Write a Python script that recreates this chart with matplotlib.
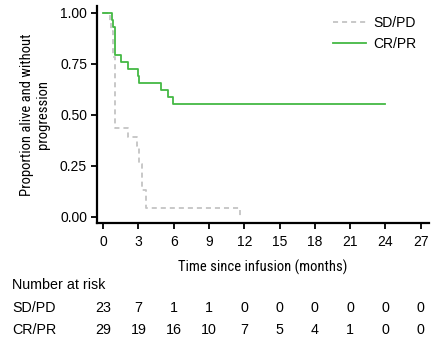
import matplotlib
matplotlib.use("Agg")
import matplotlib.pyplot as plt
from matplotlib.transforms import blended_transform_factory

# Kaplan-Meier step data (time in months, survival proportion)
sdpd_times = [0, 0.57, 0.70, 0.85, 0.98, 2.15, 2.86, 3.09, 3.28, 3.62, 11.6]
sdpd_surv = [1.0, 0.957, 0.913, 0.783, 0.435, 0.391, 0.348, 0.261, 0.130, 0.043, 0.0]

crpr_times = [0, 0.74, 0.88, 0.99, 1.05, 1.50, 2.15, 3.00, 3.06, 4.92, 5.49, 5.97, 24.0]
crpr_surv = [1.0, 0.966, 0.931, 0.862, 0.793, 0.759, 0.724, 0.690, 0.655, 0.620, 0.586, 0.552, 0.552]

x_ticks = [0, 3, 6, 9, 12, 15, 18, 21, 24, 27]
y_ticks = [0.0, 0.25, 0.50, 0.75, 1.00]
y_tick_labels = ["0.00", "0.25", "0.50", "0.75", "1.00"]

risk_groups = ["SD/PD", "CR/PR"]
risk_sdpd = [23, 7, 1, 1, 0, 0, 0, 0, 0, 0]
risk_crpr = [29, 19, 16, 10, 7, 5, 4, 1, 0, 0]

plt.rcParams["font.family"] = ["Liberation Sans", "DejaVu Sans"]
narrow = ["Roboto Condensed", "Archivo Narrow", "PT Sans Narrow",
          "Liberation Sans Narrow", "Liberation Sans"]

fig = plt.figure(figsize=(4.36, 3.42), dpi=100)
ax = fig.add_axes([0.222, 0.348, 0.762, 0.6345])

green = "#44b944"
gray = "#c4c4c4"

ax.step(sdpd_times, sdpd_surv, where="post", color=gray, lw=1.3,
        dashes=(2.8, 2.2), label="SD/PD")
ax.step(crpr_times, crpr_surv, where="post", color=green, lw=1.3,
        label="CR/PR")

ax.set_xlim(-0.53, 27.7)
ax.set_ylim(-0.03, 1.034)
ax.set_xticks(x_ticks)
ax.set_xticklabels([str(t) for t in x_ticks], fontsize=10)
ax.set_yticks(y_ticks)
ax.set_yticklabels(y_tick_labels, fontsize=10)

for side in ("top", "right"):
    ax.spines[side].set_visible(False)
for side in ("left", "bottom"):
    ax.spines[side].set_linewidth(1.6)
ax.tick_params(axis="both", width=1.3, length=4, color="black")
ax.tick_params(axis="x", pad=5)
ax.tick_params(axis="y", pad=3)

ax.set_xlabel("Time since infusion (months)", family=narrow, fontsize=10.5,
              labelpad=7)
ax.set_ylabel("Proportion alive and without\nprogression", family=narrow,
              fontsize=10.5, labelpad=7, linespacing=1.2)

ax.legend(loc="upper right", bbox_to_anchor=(1.0, 1.01), frameon=False,
          fontsize=10, handlelength=2.4, handletextpad=0.5,
          labelspacing=0.45)

# Number-at-risk table under the axis
tr = blended_transform_factory(ax.transData, fig.transFigure)
fig.text(12 / 436, 1 - 285 / 342, "Number at risk", fontsize=10.3, va="center")
rows = [(risk_groups[0], risk_sdpd, 308), (risk_groups[1], risk_crpr, 330)]
for name, counts, ypix in rows:
    yf = 1 - ypix / 342
    fig.text(12 / 436, yf, name, fontsize=10.3, va="center")
    for t, n in zip(x_ticks, counts):
        ax.text(t, yf, str(n), transform=tr, fontsize=10.3, ha="center",
                va="center", clip_on=False)

fig.savefig("out.png", dpi=100)
